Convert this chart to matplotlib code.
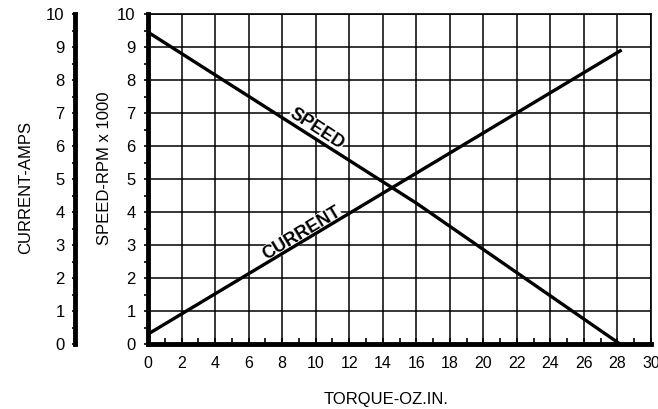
import matplotlib
matplotlib.use("Agg")
import matplotlib.pyplot as plt
from matplotlib.ticker import MultipleLocator

plt.rcParams['font.family'] = ['Liberation Sans', 'DejaVu Sans']

# values
speed_torque = [0, 16, 28.15]
speed = [9.45, 4.27, 0.0]      # rpm x 1000
current_torque = [0, 28.25]
current = [0.3, 8.91]          # amps
x_ticks = list(range(0, 31, 2))
y_ticks = list(range(0, 11))

fig = plt.figure(figsize=(6.58, 4.09), dpi=100)
ax = fig.add_axes([148/658, 1-344/409, 503/658, 330/409])

ax.plot(speed_torque, speed, color='black', lw=2.4, solid_capstyle='butt', zorder=5)
ax.plot(current_torque, current, color='black', lw=2.4, solid_capstyle='butt', zorder=5)

ax.set_xlim(0, 30)
ax.set_ylim(0, 10)
ax.set_xticks(x_ticks)
ax.set_yticks(y_ticks)
ax.xaxis.set_minor_locator(MultipleLocator(1))
ax.yaxis.set_minor_locator(MultipleLocator(0.5))
ax.grid(True, which='major', color='black', lw=1.1)
ax.set_axisbelow(True)

ax.tick_params(axis='x', which='major', direction='in', length=4, width=1.2,
               labelsize=11.5, pad=9)
ax.tick_params(axis='x', which='minor', direction='in', length=4, width=1.2)
ax.tick_params(axis='y', which='major', direction='out', length=3, width=1.2,
               labelsize=12, pad=6)
ax.tick_params(axis='y', which='minor', direction='out', length=3, width=1.2)

ax.spines['left'].set_linewidth(3.5)
ax.spines['bottom'].set_linewidth(3.5)
ax.spines['top'].set_linewidth(1.2)
ax.spines['right'].set_linewidth(1.2)

ax.set_xlabel('TORQUE-OZ.IN.', fontsize=12)
ax.xaxis.set_label_coords(0.473, -0.145)
ax.set_ylabel('SPEED-RPM x 1000', fontsize=12)
ax.yaxis.set_label_coords(-0.0716, 0.533)

# separate current axis on the far left (73 px = 52.6 pt outward)
ax2 = ax.twinx()
ax2.set_ylim(0, 10)
ax2.set_yticks(y_ticks)
ax2.yaxis.set_minor_locator(MultipleLocator(0.5))
ax2.yaxis.tick_left()
ax2.yaxis.set_label_position('left')
for s in ['top', 'right', 'bottom']:
    ax2.spines[s].set_visible(False)
ax2.spines['left'].set_position(('outward', 52.6))
ax2.spines['left'].set_linewidth(3.5)
ax2.spines['left'].set_bounds(0, 10)
ax2.tick_params(axis='y', which='major', direction='inout', length=5, width=1.2,
                labelsize=12, pad=5)
ax2.tick_params(axis='y', which='minor', direction='inout', length=4, width=1.2)
ax2.set_ylabel('CURRENT-AMPS', fontsize=12)
ax2.yaxis.set_label_coords(-0.228, 0.473)

# line labels, sitting just above each line
box = dict(facecolor='white', edgecolor='none', pad=0.3)
ax.text(10.07, 6.52, 'SPEED', rotation=-33, ha='center', va='center',
        rotation_mode='anchor', fontsize=13, fontweight='bold', bbox=box, zorder=4)
ax.text(9.17, 3.35, 'CURRENT', rotation=31, ha='center', va='center',
        rotation_mode='anchor', fontsize=13, fontweight='bold', bbox=box, zorder=4)

fig.savefig('out.png', dpi=100)
